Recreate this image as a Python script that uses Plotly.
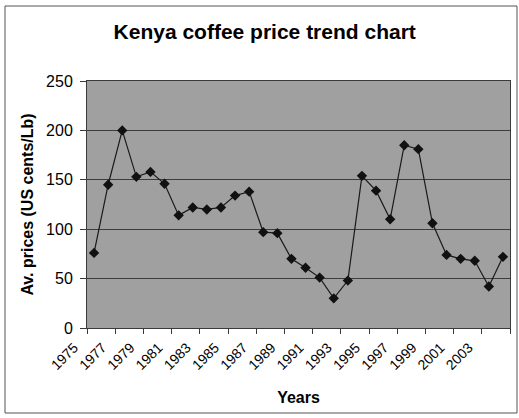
import plotly.graph_objects as go

years = list(range(1975, 2005))
prices = [76, 145, 200, 153, 158, 146, 114, 122, 120, 122, 134, 138, 97, 96, 70,
          61, 51, 30, 48, 154, 139, 110, 185, 181, 106, 74, 70, 68, 42, 72]
tick_years = list(range(1975, 2004, 2))
tick_labels = [str(y) for y in tick_years]
y_ticks = [0, 50, 100, 150, 200, 250]

FONT = "Liberation Sans, Arial, sans-serif"

fig = go.Figure()
fig.add_trace(go.Scatter(
    x=years, y=prices, mode="lines+markers",
    line=dict(color="#1a1a1a", width=1.2),
    marker=dict(symbol="diamond", size=8, color="#111111"),
    showlegend=False,
))

fig.update_layout(
    width=519, height=418,
    margin=dict(l=87, r=9, t=81, b=90),
    paper_bgcolor="white",
    plot_bgcolor="#a0a0a0",
    font=dict(family=FONT, color="black"),
    title=dict(text="<b>Kenya coffee price trend chart</b>", x=0.51, xanchor="center",
               y=1 - 32 / 418, yanchor="middle", font=dict(size=21, family=FONT)),
    xaxis=dict(
        range=[1974.5, 2004.5], tickmode="array", tickvals=tick_years, ticktext=tick_labels,
        tickangle=-45, ticks="", showgrid=False, zeroline=False,
        tickfont=dict(size=14), ticklabelshift=-20, ticklabelstandoff=5,
        showline=True, linecolor="#3a3a3a", linewidth=1, mirror=True,
        minor=dict(tick0=1974.5, dtick=2, ticks="outside", ticklen=5, tickcolor="#3a3a3a",
                   showgrid=False),
        title=dict(text="<b>Years</b>", font=dict(size=16), standoff=19),
    ),
    yaxis=dict(
        range=[0, 250], tickmode="array", tickvals=y_ticks,
        ticks="outside", ticklen=6, tickcolor="#3a3a3a",
        showgrid=True, gridcolor="#3c3c3c", gridwidth=1, zeroline=False,
        tickfont=dict(size=16), ticklabelstandoff=4,
        showline=True, linecolor="#3a3a3a", linewidth=1, mirror=True,
        title=dict(text="<b>Av. prices (US cents/Lb)</b>", font=dict(size=16), standoff=8),
    ),
    shapes=[dict(type="rect", xref="paper", yref="paper",
                 x0=-82 / 423, x1=1 + 7 / 423, y0=-85 / 247, y1=1 + 75 / 247,
                 line=dict(color="#555555", width=1), layer="below")],
)

fig.write_html("out.html")
